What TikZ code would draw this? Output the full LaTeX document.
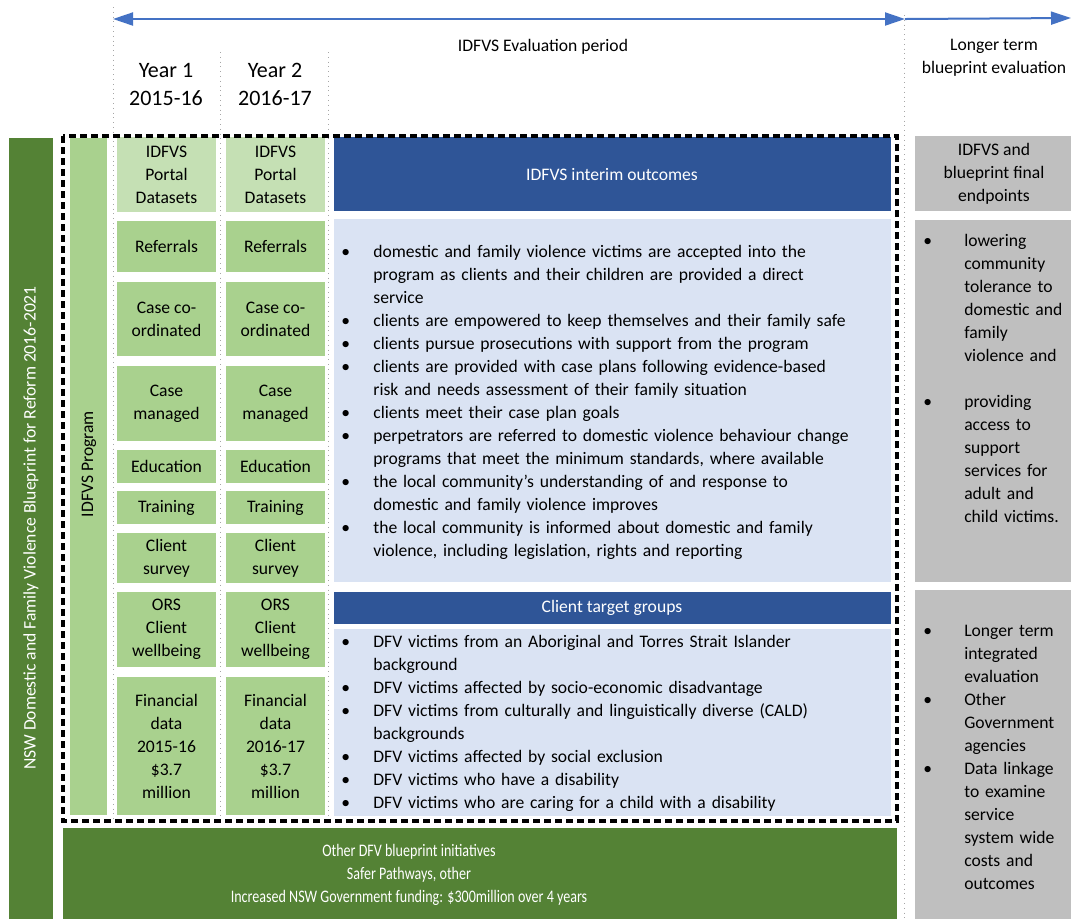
\documentclass[tikz,border=0pt]{standalone}
\usepackage{fontspec}
\setmainfont{Carlito}
\usepackage{graphicx}
\usetikzlibrary{arrows.meta}

\definecolor{darkgreen}{HTML}{548235}
\definecolor{rowgreen}{HTML}{A9D18E}
\definecolor{palegreen}{HTML}{C5E0B4}
\definecolor{darkblue}{HTML}{2F5597}
\definecolor{paleblue}{HTML}{DAE3F3}
\definecolor{midgray}{HTML}{BFBFBF}
\definecolor{arrowblue}{HTML}{4472C4}

% bullet lines and their continuation lines
\newcommand{\bitem}[1][16pt]{\makebox[#1][l]{\textbullet}}
\newcommand{\bcont}[1][16pt]{\hspace*{#1}}
\newcommand{\squeeze}[1]{\scalebox{0.8}[1]{#1}}

\begin{document}
\begin{tikzpicture}[x=0.5pt,y=-0.5pt,
    every node/.style={font=\fontsize{8.8}{11.5}\selectfont, inner sep=0pt},
    guide/.style={gray!70, dotted, line width=0.4pt},
    celltxt/.style={align=center},
    hdrtxt/.style={text=white, align=center},
    yearlbl/.style={align=center, font=\fontsize{11}{14}\selectfont},
    listtxt/.style={anchor=base west, text width=#1, align=left},
    tip/.style={arrowblue, line width=1pt}]
  \fill[white] (0,0) rectangle (1071,918);
  \useasboundingbox (0,0) rectangle (1071,918);

  % time line
  \draw[guide] (113,7) -- (113,822);
  \draw[guide] (220,52) -- (220,822);
  \draw[guide] (328,52) -- (328,822);
  \draw[guide] (904,15) -- (904,918);
  \coordinate (evalL) at (113,19);
  \coordinate (evalR) at (905,19);
  \coordinate (longR) at (1071,18);
  \draw[tip, {Triangle[length=10pt,width=6.5pt]}-{Triangle[length=10pt,width=6.5pt]}] (evalL) -- (evalR);
  \draw[tip, -{Triangle[length=10pt,width=6.5pt]}] (evalR) -- (longR);
  \node (evalperiod) at (543,47) {IDFVS Evaluation period};
  \node[align=center] (longer) at (994,58) {Longer term\\blueprint evaluation};
  \node[yearlbl] (year1) at (166,84) {Year 1\\2015-16};
  \node[yearlbl] (year2) at (275,84) {Year 2\\2016-17};

  % blueprint and program bars
  \fill[darkgreen] (9,138) rectangle (53,920);
  \node[rotate=90, text=white] (blueprint) at (31,528) {NSW Domestic and Family Violence Blueprint for Reform 2016-2021};
  \fill[rowgreen] (70,138) rectangle (107,815);
  \node[rotate=90] (program) at (89,464) {IDFVS Program};

  % year columns
  \foreach \xa/\cn/\yr in {117/a/2015-16, 226/b/2016-17}{
    \fill[palegreen] (\xa,137) rectangle (\xa+99,212);
    \node[celltxt] (\cn portal) at (\xa+49.5,174.5) {IDFVS\\Portal\\Datasets};
    \foreach \ya/\yb/\rn/\txt in {221/272/ref/{Referrals}, 282/356/coord/{Case co-\\ordinated},
        366/441/man/{Case\\managed}, 450/483/edu/{Education}, 491/524/train/{Training},
        533/583/survey/{Client\\survey}, 592/667/ors/{ORS\\Client\\wellbeing},
        677/815/fin/{Financial\\data\\\yr\\\$3.7\\million}}{
      \fill[rowgreen] (\xa,\ya) rectangle (\xa+99,\yb);
      \node[celltxt] (\cn\rn) at (\xa+49.5,{(\ya+\yb)/2}) {\txt};
    }
  }

  % interim outcomes
  \fill[darkblue] (334,137) rectangle (891,211);
  \node[hdrtxt] (interim) at (612,174) {IDFVS interim outcomes};
  \fill[paleblue] (334,219) rectangle (891,582);
  \node[listtxt=275pt] (outcomes) at (341,257) {%
    \bitem domestic and family violence victims are accepted into the\\
    \bcont program as clients and their children are provided a direct\\
    \bcont service\\
    \bitem clients are empowered to keep themselves and their family safe\\
    \bitem clients pursue prosecutions with support from the program\\
    \bitem clients are provided with case plans following evidence-based\\
    \bcont risk and needs assessment of their family situation\\
    \bitem clients meet their case plan goals\\
    \bitem perpetrators are referred to domestic violence behaviour change\\
    \bcont programs that meet the minimum standards, where available\\
    \bitem the local community’s understanding of and response to\\
    \bcont domestic and family violence improves\\
    \bitem the local community is informed about domestic and family\\
    \bcont violence, including legislation, rights and reporting};

  % client target groups
  \fill[darkblue] (334,592) rectangle (891,624);
  \node[hdrtxt] (targets) at (612,608) {Client target groups};
  \fill[paleblue] (334,629) rectangle (891,816);
  \node[listtxt=275pt] (groups) at (341,647) {%
    \bitem DFV victims from an Aboriginal and Torres Strait Islander\\
    \bcont background\\
    \bitem DFV victims affected by socio-economic disadvantage\\
    \bitem DFV victims from culturally and linguistically diverse (CALD)\\
    \bcont backgrounds\\
    \bitem DFV victims affected by social exclusion\\
    \bitem DFV victims who have a disability\\
    \bitem DFV victims who are caring for a child with a disability};

  % longer term column
  \fill[midgray] (915,136) rectangle (1075,211);
  \node[celltxt] (endpoints) at (994,174) {IDFVS and\\blueprint final\\endpoints};
  \fill[midgray] (915,220) rectangle (1075,582);
  \node[listtxt=75pt] (finals) at (923,246) {%
    \bitem[17.5pt] lowering\\ \bcont[17.5pt] community\\ \bcont[17.5pt] tolerance to\\
    \bcont[17.5pt] domestic and\\ \bcont[17.5pt] family\\ \bcont[17.5pt] violence and\\[11.5pt]
    \bitem[17.5pt] providing\\ \bcont[17.5pt] access to\\ \bcont[17.5pt] support\\
    \bcont[17.5pt] services for\\ \bcont[17.5pt] adult and\\ \bcont[17.5pt] child victims.};
  \fill[midgray] (915,590) rectangle (1075,920);
  \node[listtxt=75pt] (longterm) at (923,636) {%
    \bitem[17.5pt] Longer term\\ \bcont[17.5pt] integrated\\ \bcont[17.5pt] evaluation\\
    \bitem[17.5pt] Other\\ \bcont[17.5pt] Government\\ \bcont[17.5pt] agencies\\
    \bitem[17.5pt] Data linkage\\ \bcont[17.5pt] to examine\\ \bcont[17.5pt] service\\
    \bcont[17.5pt] system wide\\ \bcont[17.5pt] costs and\\ \bcont[17.5pt] outcomes};

  % other initiatives
  \fill[darkgreen] (63,828) rectangle (897,920);
  \node[hdrtxt] (other) at (409,875) {\squeeze{Other DFV blueprint initiatives}\\
    \squeeze{Safer Pathways, other}\\
    \squeeze{Increased NSW Government funding: \$300million over 4 years}};

  % program frame
  \draw[line width=1.7pt, dash pattern=on 3.5pt off 2pt] (63,136) rectangle (897,821);
\end{tikzpicture}
\end{document}
